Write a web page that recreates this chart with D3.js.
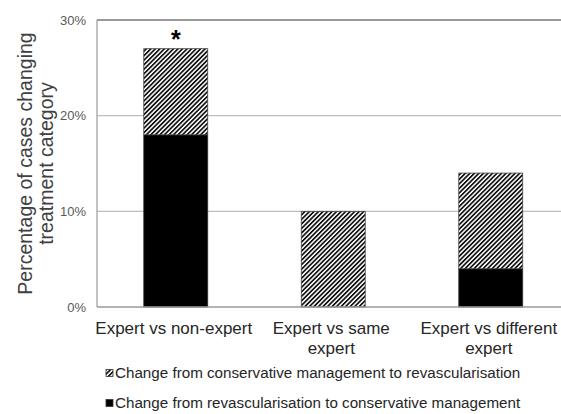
<!DOCTYPE html>
<html>
<head>
<meta charset="utf-8">
<script src="https://cdn.jsdelivr.net/npm/d3@7"></script>
<style>
  body { margin: 0; background: #fff; }
  text { font-family: "Liberation Sans", Arial, sans-serif; }
</style>
</head>
<body>
<svg id="chart" width="561" height="414"></svg>
<script>
// Chart data
const categories = ["Expert vs non-expert", "Expert vs same expert", "Expert vs different expert"];
const categoryLines = [["Expert vs non-expert"], ["Expert vs same", "expert"], ["Expert vs different", "expert"]];
const revascToConservative = [18, 0, 4];   // solid black
const conservativeToRevasc = [9, 10, 10];  // hatched
const yTicks = [0, 10, 20, 30];
const legendLabels = [
  "Change from conservative management to revascularisation",
  "Change from revascularisation to conservative management"
];
const significant = [true, false, false];

const svg = d3.select("#chart");

// plot area
const margin = { top: 20, left: 97 };
const plotW = 472.5;
const plotH = 287;

const defs = svg.append("defs");
const hatch = defs.append("pattern")
  .attr("id", "hatch")
  .attr("patternUnits", "userSpaceOnUse")
  .attr("width", 3.2)
  .attr("height", 3.2)
  .attr("patternTransform", "rotate(45)");
hatch.append("rect").attr("width", 3.2).attr("height", 3.2).attr("fill", "#fff");
hatch.append("rect").attr("width", 1.7).attr("height", 3.2).attr("fill", "#111");

const g = svg.append("g")
  .attr("transform", "translate(" + margin.left + "," + margin.top + ")");

const x = d3.scaleBand()
  .domain(categories)
  .range([0, plotW])
  .paddingInner(0.594)
  .paddingOuter(0.297);

const y = d3.scaleLinear()
  .domain([0, 30])
  .range([plotH, 0]);

// gridlines
g.selectAll(".grid")
  .data(yTicks.filter(d => d > 0))
  .enter().append("line")
  .attr("x1", 0)
  .attr("x2", plotW)
  .attr("y1", d => y(d))
  .attr("y2", d => y(d))
  .attr("stroke", d => d === 30 ? "#777" : "#bdbdbd")
  .attr("stroke-width", d => d === 30 ? 1.6 : 1.2);

// y axis line and ticks
g.append("line")
  .attr("x1", 0).attr("x2", 0)
  .attr("y1", y(30)).attr("y2", y(0))
  .attr("stroke", "#9a9a9a").attr("stroke-width", 1.2);

g.selectAll(".ytick")
  .data(yTicks)
  .enter().append("text")
  .attr("x", -11)
  .attr("y", d => y(d))
  .attr("dy", "0.35em")
  .attr("text-anchor", "end")
  .attr("fill", "#595959")
  .style("font-size", "13px")
  .text(d => d + "%");

// stacked bars
const stackData = categories.map((c, i) => ({
  cat: c,
  black: revascToConservative[i],
  hatch: conservativeToRevasc[i]
}));

const bars = g.selectAll(".bar")
  .data(stackData)
  .enter().append("g");

bars.filter(d => d.black > 0).append("rect")
  .attr("x", d => x(d.cat))
  .attr("y", d => y(d.black))
  .attr("width", x.bandwidth())
  .attr("height", d => y(0) - y(d.black))
  .attr("fill", "#000")
  .attr("stroke", "#333")
  .attr("stroke-width", 0.8);

bars.filter(d => d.hatch > 0).append("rect")
  .attr("x", d => x(d.cat))
  .attr("y", d => y(d.black + d.hatch))
  .attr("width", x.bandwidth())
  .attr("height", d => y(d.black) - y(d.black + d.hatch))
  .attr("fill", "url(#hatch)")
  .attr("stroke", "#444")
  .attr("stroke-width", 0.8);

// x axis line
g.append("line")
  .attr("x1", 0).attr("x2", plotW)
  .attr("y1", y(0)).attr("y2", y(0))
  .attr("stroke", "#9a9a9a").attr("stroke-width", 1.4);

// significance star
g.selectAll(".star")
  .data(stackData.filter((d, i) => significant[i]))
  .enter().append("text")
  .attr("x", d => x(d.cat) + x.bandwidth() / 2)
  .attr("y", d => y(d.black + d.hatch) - 1)
  .attr("text-anchor", "middle")
  .style("font-size", "25px")
  .style("font-weight", "bold")
  .attr("fill", "#000")
  .text("*");

// category labels
const catLabels = g.selectAll(".cat")
  .data(categories)
  .enter().append("text")
  .attr("text-anchor", "middle")
  .attr("fill", "#262626")
  .style("font-size", "17px")
  .attr("transform", d => "translate(" + (x(d) + x.bandwidth() / 2 - 2) + "," + (plotH + 27) + ")");

catLabels.selectAll("tspan")
  .data((d, i) => categoryLines[i])
  .enter().append("tspan")
  .attr("x", 0)
  .attr("dy", (d, i) => i === 0 ? 0 : 19.5)
  .text(d => d);

// y axis title
svg.append("text")
  .attr("transform", "translate(32," + (margin.top + plotH / 2) + ") rotate(-90)")
  .attr("text-anchor", "middle")
  .attr("fill", "#404040")
  .style("font-size", "19.5px")
  .selectAll("tspan")
  .data(["Percentage of cases changing", "treatment category"])
  .enter().append("tspan")
  .attr("x", 0)
  .attr("dy", (d, i) => i === 0 ? 0 : 21)
  .text(d => d);

// legend
const legend = svg.selectAll(".legend")
  .data(legendLabels)
  .enter().append("g")
  .attr("transform", (d, i) => "translate(106," + (373 + i * 30) + ")");

legend.append("rect")
  .attr("x", 0)
  .attr("y", -3.5)
  .attr("width", 7)
  .attr("height", 7)
  .attr("fill", (d, i) => i === 0 ? "url(#hatch)" : "#000")
  .attr("stroke", "#333")
  .attr("stroke-width", 0.8);

legend.append("text")
  .attr("x", 9)
  .attr("dy", "0.35em")
  .attr("fill", "#262626")
  .style("font-size", "15.2px")
  .text(d => d);
</script>
</body>
</html>
